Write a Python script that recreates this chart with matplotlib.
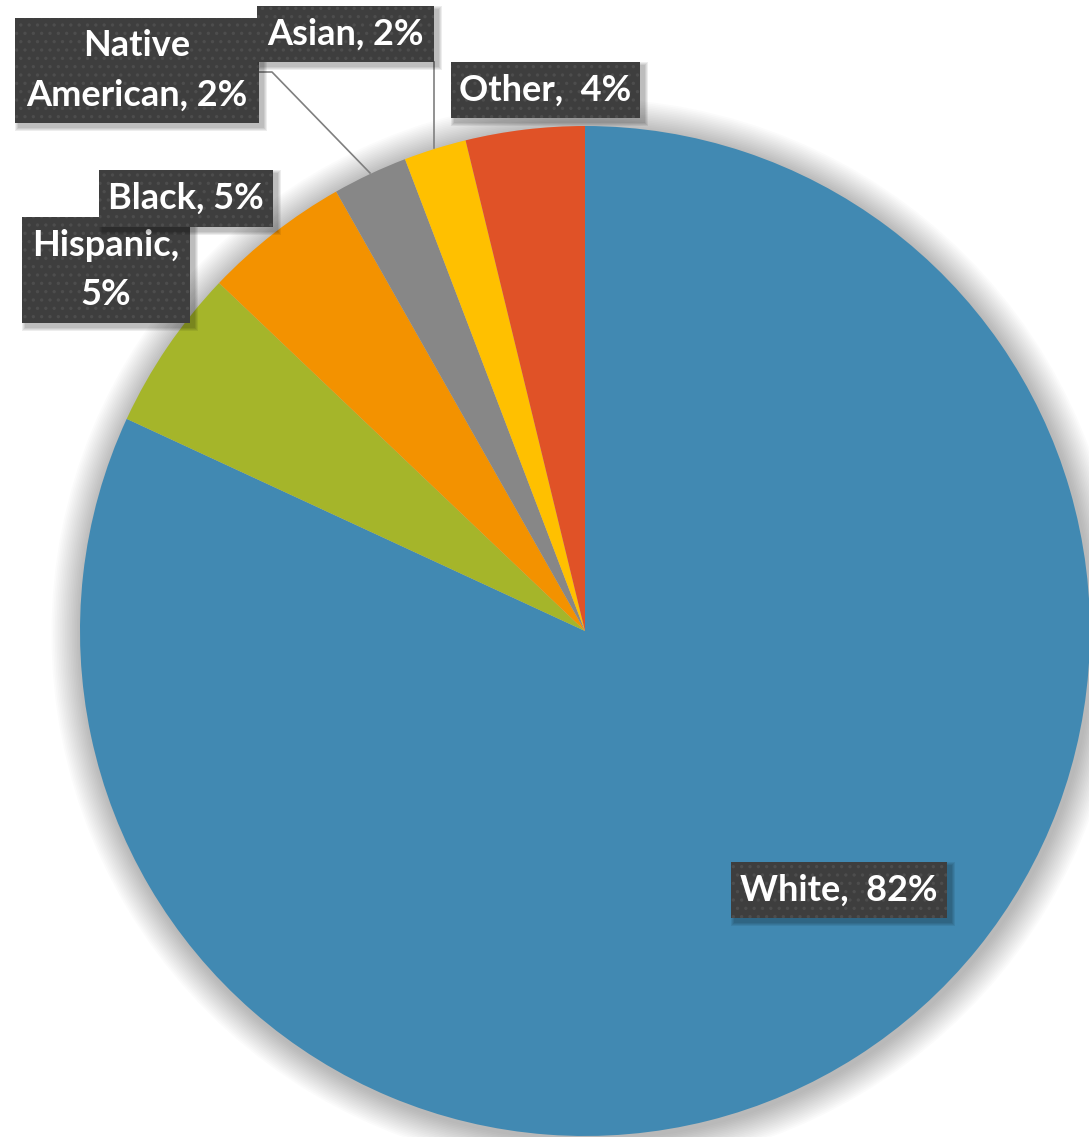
import matplotlib
matplotlib.use("Agg")
import matplotlib.pyplot as plt
from matplotlib.patches import Rectangle, Circle

# data
categories = ["White", "Hispanic", "Black", "Native American", "Asian", "Other"]
shares = [81.9, 5.2, 4.7, 2.4, 2.0, 3.8]
label_texts = ["White,  82%", "Hispanic,\n5%", "Black, 5%", "Native\nAmerican, 2%", "Asian, 2%", "Other,  4%"]
colors = ["#4189B2", "#A5B52A", "#F39200", "#878787", "#FFC000", "#E05227"]

W, H = 1089, 1137
CX, CY, R = 585, 631, 505

# label boxes in pixel coords (left, top, right, bottom)
boxes = {
    "White": (731, 862, 947, 918),
    "Hispanic": (22, 217, 190, 323),
    "Black": (99, 170, 273, 227),
    "Native American": (15, 18, 259, 123),
    "Asian": (257, 6, 434, 62),
    "Other": (451, 62, 640, 118),
}


def py(y):
    return H - y


fig = plt.figure(figsize=(W / 100, H / 100), dpi=100)
ax = fig.add_axes([0, 0, 1, 1])

# soft shadow round the pie
for k in range(18, 0, -1):
    ax.add_patch(Circle((CX + 2, py(CY) - 3), R + k * 1.7, color="black",
                        alpha=0.016, lw=0, zorder=0))

ax.pie(shares, colors=colors, startangle=90, counterclock=False,
       center=(CX, py(CY)), radius=R, wedgeprops=dict(linewidth=0))

# leader lines
ax.plot([259, 272, 370], [py(72), py(72), py(173)], color="#7f7f7f", lw=1.2, zorder=3)
ax.plot([434, 434], [py(62), py(148)], color="#7f7f7f", lw=1.2, zorder=3)

plt.rcParams["hatch.linewidth"] = 1.2
z = 5
for cat, txt in zip(categories, label_texts):
    x0, y0, x1, y1 = boxes[cat]
    for s in range(4, 0, -1):
        ax.add_patch(Rectangle((x0 + 4 - s, py(y1) - 4 - s), x1 - x0 + 2 * s, y1 - y0 + 2 * s,
                               color="black", alpha=0.07, lw=0, zorder=z))
    ax.add_patch(Rectangle((x0, py(y1)), x1 - x0, y1 - y0, facecolor="#3e3e3e",
                           edgecolor="#4d4d4d", hatch="..", lw=0, zorder=z + 1))
    ax.text((x0 + x1) / 2, py((y0 + y1) / 2), txt, color="white", fontsize=26,
            fontweight="bold", family=["Lato", "DejaVu Sans"], ha="center", va="center",
            linespacing=1.6, zorder=z + 2)
    z += 3

ax.set_xlim(0, W)
ax.set_ylim(0, H)
ax.set_aspect("equal")
ax.axis("off")
fig.savefig("out.png", dpi=100, facecolor="white")
